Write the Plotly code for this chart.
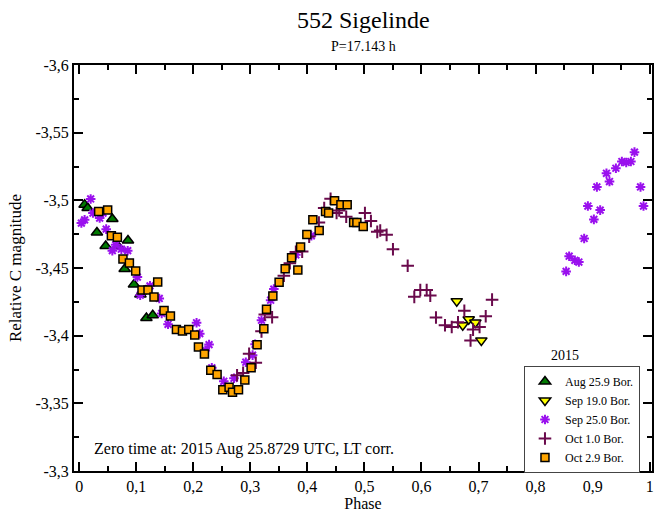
import plotly.graph_objects as go

# phase / relative magnitude
aug_phase = [0.0096, 0.0149, 0.0312, 0.0465, 0.0582, 0.068, 0.0798, 0.0856,
             0.0961, 0.1074, 0.1179, 0.129]
aug_mag = [-3.4968, -3.4943, -3.4762, -3.4663, -3.4862, -3.4663, -3.4493, -3.4703,
           -3.4379, -3.4305, -3.4131, -3.4151]

sep19_phase = [0.6618, 0.6723, 0.6828, 0.6944, 0.7049]
sep19_mag = [-3.4255, -3.4077, -3.4121, -3.4097, -3.3965]

sep25_phase = [0.0039, 0.0096, 0.0202, 0.0242, 0.036, 0.0418, 0.0474, 0.0582,
               0.064, 0.074, 0.0851, 0.1021, 0.107, 0.1242, 0.1404, 0.1447,
               0.1558, 0.2058, 0.2114, 0.2211, 0.2277, 0.2325, 0.2535, 0.2714,
               0.2921, 0.304, 0.3084, 0.3196, 0.3356, 0.3412, 0.3798, 0.4070,
               0.8535, 0.8588, 0.8688, 0.8758, 0.8851, 0.8916, 0.9021, 0.9074,
               0.9132, 0.9242, 0.9295, 0.9407, 0.9512, 0.9588, 0.967, 0.9733,
               0.9839, 0.9891]
sep25_mag = [-3.4832, -3.4856, -3.501, -3.4906, -3.4869, -3.4906, -3.4787, -3.4628,
             -3.4671, -3.4639, -3.4628, -3.4433, -3.4299, -3.4368, -3.4275, -3.4164,
             -3.4084, -3.4095, -3.4015, -3.3891, -3.3934, -3.3763, -3.3663, -3.3685,
             -3.3804, -3.3856, -3.3936, -3.4114, -3.4262, -3.4344, -3.4597, -3.4738,
             -3.4475, -3.4587, -3.4557, -3.4544, -3.4718, -3.4958, -3.4859, -3.5099,
             -3.4928, -3.52, -3.5139, -3.5237, -3.5287, -3.528, -3.5287, -3.5356,
             -3.5099, -3.4958]

oct1_phase = [0.2768, 0.2874, 0.2979, 0.3096, 0.3196, 0.3254, 0.3382, 0.3588,
              0.3693, 0.3798, 0.3909, 0.4032, 0.4202, 0.4295, 0.4407, 0.4512,
              0.4558, 0.4681, 0.5009, 0.5114, 0.5225, 0.5277, 0.5389, 0.55,
              0.5758, 0.5874, 0.5979, 0.6091, 0.6154, 0.6254, 0.6412, 0.653,
              0.664, 0.6751, 0.686, 0.6904, 0.7018, 0.7126, 0.7237]
oct1_mag = [-3.3708, -3.3725, -3.3866, -3.38, -3.4032, -3.4156, -3.4136, -3.4443,
            -3.4535, -3.4619, -3.4621, -3.4732, -3.4836, -3.4943, -3.5012, -3.4906,
            -3.4925, -3.4879, -3.4906, -3.4847, -3.4767, -3.4777, -3.4745, -3.4639,
            -3.4517, -3.4287, -3.4337, -3.4337, -3.4296, -3.4134, -3.4077, -3.4064,
            -3.4099, -3.4184, -3.3965, -3.4045, -3.4064, -3.4143, -3.4266]

oct2_phase = [0.0342, 0.05, 0.0565, 0.067, 0.0768, 0.0881, 0.0991, 0.1102,
              0.1207, 0.1312, 0.1377, 0.1488, 0.16, 0.1705, 0.1811, 0.1921,
              0.2026, 0.2091, 0.2196, 0.2307, 0.2418, 0.2518, 0.2628, 0.2688,
              0.2793, 0.2904, 0.3014, 0.3119, 0.3237, 0.3284, 0.3395, 0.3505,
              0.3611, 0.3723, 0.3833, 0.3881, 0.3991, 0.4096, 0.4207, 0.4319,
              0.4372, 0.4477, 0.4588, 0.4698, 0.4811, 0.4868, 0.4979]
oct2_mag = [-3.4918, -3.4928, -3.4738, -3.4728, -3.4567, -3.4537, -3.4478, -3.4337,
            -3.4337, -3.4285, -3.4396, -3.4186, -3.4146, -3.4045, -3.4034, -3.4045,
            -3.4005, -3.3916, -3.3864, -3.3745, -3.3713, -3.3601, -3.3618, -3.3581,
            -3.3601, -3.3673, -3.3763, -3.3933, -3.4052, -3.4195, -3.4294, -3.4394,
            -3.4495, -3.4576, -3.4485, -3.4656, -3.4747, -3.4856, -3.4777, -3.4918,
            -3.4906, -3.4997, -3.4968, -3.4968, -3.4836, -3.4836, -3.4807]

x_ticks = [0, 0.1, 0.2, 0.3, 0.4, 0.5, 0.6, 0.7, 0.8, 0.9, 1.0]
x_labels = ["0", "0,1", "0,2", "0,3", "0,4", "0,5", "0,6", "0,7", "0,8", "0,9", "1"]
y_ticks = [-3.6, -3.55, -3.5, -3.45, -3.4, -3.35, -3.3]
y_labels = ["-3,6", "-3,55", "-3,5", "-3,45", "-3,4", "-3,35", "-3,3"]

FONT = "Liberation Serif, Times New Roman, serif"

fig = go.Figure()

# серии в том же порядке, что и в легенде
fig.add_trace(go.Scatter(
    x=aug_phase, y=aug_mag, mode="markers", name="Aug 25.9 Bor.",
    marker=dict(symbol="triangle-up", size=10, color="#007a00",
                line=dict(color="black", width=1.5))))
fig.add_trace(go.Scatter(
    x=sep19_phase, y=sep19_mag, mode="markers", name="Sep 19.0 Bor.",
    marker=dict(symbol="triangle-down", size=10, color="#ffff00",
                line=dict(color="black", width=1.5))))
fig.add_trace(go.Scatter(
    x=sep25_phase, y=sep25_mag, mode="markers", name="Sep 25.0 Bor.",
    marker=dict(symbol="asterisk-open", size=8, color="#9a10ee",
                line=dict(color="#9a10ee", width=2))))
fig.add_trace(go.Scatter(
    x=oct1_phase, y=oct1_mag, mode="markers", name="Oct 1.0 Bor.",
    marker=dict(symbol="cross-thin-open", size=9, color="#6a0a4c",
                line=dict(color="#6a0a4c", width=2))))
fig.add_trace(go.Scatter(
    x=oct2_phase, y=oct2_mag, mode="markers", name="Oct 2.9 Bor.",
    marker=dict(symbol="square", size=8, color="#ffa500",
                line=dict(color="black", width=1.5))))

axis_common = dict(
    showline=True, linecolor="black", linewidth=2, mirror="allticks",
    showgrid=False, zeroline=False, automargin=False,
    ticks="inside", ticklen=9, tickwidth=1.5, tickcolor="black",
    tickfont=dict(family=FONT, size=16, color="black"),
)

fig.update_xaxes(
    range=[-0.009, 1.004], tickvals=x_ticks, ticktext=x_labels,
    minor=dict(ticks="inside", dtick=0.05, tick0=0, ticklen=5, tickwidth=1.5,
               tickcolor="black"),
    title=dict(text="Phase", font=dict(family=FONT, size=16, color="black"),
               standoff=2),
    **axis_common)
fig.update_yaxes(
    range=[-3.3, -3.6], tickvals=y_ticks, ticktext=y_labels,
    minor=dict(ticks="inside", dtick=0.025, tick0=-3.6, ticklen=5, tickwidth=1.5,
               tickcolor="black"),
    title=dict(text="Relative C magnitude",
               font=dict(family=FONT, size=17, color="black"), standoff=10),
    **axis_common)

fig.update_layout(
    width=665, height=514,
    margin=dict(l=74, r=13, t=65, b=43),
    plot_bgcolor="white", paper_bgcolor="white",
    font=dict(family=FONT, color="black"),
    showlegend=True,
    legend=dict(
        x=0.7785, y=0.2586, xanchor="left", yanchor="top",
        bordercolor="#444444", borderwidth=1, bgcolor="white",
        font=dict(family=FONT, size=12, color="black"),
        tracegroupgap=0,
    ),
)

fig.add_annotation(text="552 Sigelinde", xref="paper", yref="paper",
                   x=0.5, y=1, yanchor="middle", yshift=45, showarrow=False,
                   font=dict(family=FONT, size=24, color="black"))
fig.add_annotation(text="P=17.143 h", xref="paper", yref="paper",
                   x=0.5, y=1, yanchor="middle", yshift=19, showarrow=False,
                   font=dict(family=FONT, size=14, color="black"))
fig.add_annotation(text="2015", xref="paper", yref="paper",
                   x=0.877, y=0.2586, yanchor="bottom", yshift=1, showarrow=False,
                   font=dict(family=FONT, size=14, color="black"))
fig.add_annotation(text="Zero time at: 2015 Aug 25.8729 UTC, LT corr.",
                   xref="paper", yref="paper", x=0.031, y=0.055,
                   xanchor="left", yanchor="middle", showarrow=False,
                   font=dict(family=FONT, size=16, color="black"))

# убираем отступ body и панель кнопок
fig.write_html("out.html", config={"displayModeBar": False},
               post_script="document.body.style.margin='0';")
